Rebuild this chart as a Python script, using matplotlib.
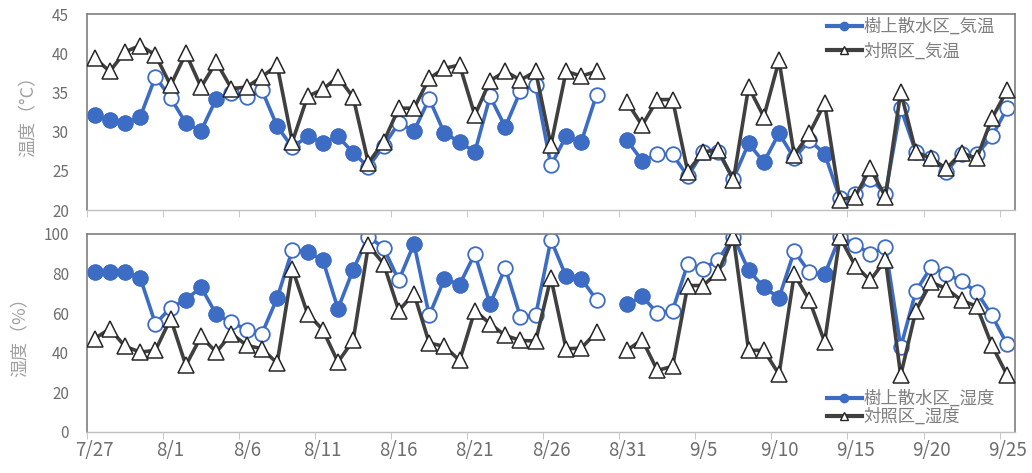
import numpy as np
import matplotlib
matplotlib.use('Agg')
import matplotlib.pyplot as plt

plt.rcParams['font.family'] = ['Noto Sans CJK JP', 'DejaVu Sans']

# 7/27 - 9/25 (8/30 欠測)
n_days = 61
tick_labels = ['7/27', '8/1', '8/6', '8/11', '8/16', '8/21', '8/26', '8/31',
               '9/5', '9/10', '9/15', '9/20', '9/25']

nan = np.nan
temp_spr = [32.1, 31.5, 31.1, 31.9, 37.0, 34.3, 31.1, 30.1, 34.2, 35.0,
            34.4, 35.3, 30.7, 28.0, 29.4, 28.6, 29.4, 27.3, 25.5, 28.2,
            31.1, 30.1, 34.2, 29.8, 28.7, 27.4, 34.5, 30.6, 35.2, 35.9,
            25.7, 29.4, 28.7, 34.7, nan, 28.9, 26.3, 27.1, 27.1, 24.3,
            27.4, 27.4, 24.0, 28.5, 26.1, 29.8, 26.6, 28.9, 27.2, 21.5,
            22.1, 24.0, 22.1, 33.0, 27.4, 26.6, 24.9, 27.2, 27.1, 29.4, 33.0]
temp_ctl = [39.4, 37.7, 40.2, 41.0, 39.8, 35.9, 40.0, 35.7, 38.9, 35.5,
            35.7, 37.0, 38.5, 28.7, 34.5, 35.4, 37.0, 34.4, 26.0, 28.7,
            33.0, 33.0, 36.8, 38.1, 38.5, 32.1, 36.5, 37.7, 36.6, 37.7,
            28.3, 37.7, 37.1, 37.7, nan, 33.8, 30.8, 34.1, 34.1, 24.9,
            27.4, 27.7, 23.8, 35.7, 31.9, 39.1, 27.0, 29.8, 33.6, 21.3,
            21.7, 25.3, 21.7, 35.1, 27.4, 26.6, 25.3, 27.3, 26.6, 31.7, 35.3]
hum_spr = [80.6, 80.6, 80.6, 77.8, 54.6, 62.7, 66.7, 73.1, 59.3, 55.4,
           51.6, 49.6, 67.5, 91.9, 90.7, 86.9, 62.2, 81.9, 98.6, 92.9,
           76.5, 95.0, 58.8, 77.3, 74.4, 89.9, 64.4, 82.9, 58.0, 58.8,
           97.0, 78.5, 77.3, 66.7, nan, 64.4, 68.4, 60.0, 61.3, 84.9,
           82.4, 86.9, 98.6, 81.5, 73.1, 67.7, 91.2, 80.6, 79.5, 98.6,
           94.6, 89.9, 93.2, 42.8, 71.1, 83.2, 79.8, 76.1, 70.6, 58.8, 44.2]
hum_ctl = [47.1, 52.1, 43.2, 40.3, 41.2, 57.2, 33.6, 48.2, 40.3, 49.6,
           43.7, 42.0, 34.8, 82.4, 59.7, 51.6, 35.3, 46.2, 94.1, 84.9,
           61.3, 69.8, 44.9, 43.2, 36.1, 61.3, 54.6, 48.7, 46.2, 45.9,
           77.8, 42.0, 42.3, 50.4, nan, 41.2, 46.6, 31.1, 33.1, 73.9,
           73.9, 80.6, 98.3, 41.2, 41.2, 29.1, 79.5, 66.4, 45.4, 98.3,
           84.0, 76.5, 86.9, 28.6, 61.3, 75.6, 72.3, 66.4, 63.4, 43.7, 28.6]

# 塗りつぶしマーカーの日（index）
temp_filled = [0, 1, 2, 3, 6, 7, 8, 12, 14, 15, 16, 17, 21, 23, 24, 25, 27,
               31, 32, 35, 36, 43, 44, 45, 48]
hum_filled = [0, 1, 2, 3, 6, 7, 8, 12, 14, 15, 16, 17, 21, 23, 24, 26,
              31, 32, 35, 36, 43, 44, 45, 48]

blue = '#3D6CC4'
dark = '#404040'
gray_txt = '#6E6E6E'
legend_txt = '#7F7F7F'
label_txt = '#A0A0A0'
spine_c = '#7F7F7F'

x = np.arange(n_days)

fig = plt.figure(figsize=(10.32, 4.73), dpi=100)
ax1 = fig.add_axes([0.0843, 0.556, 0.899, 0.414])
ax2 = fig.add_axes([0.0843, 0.0867, 0.899, 0.419])


def draw(ax, y_spr, y_ctl, filled, lab_spr, lab_ctl):
    y_spr = np.array(y_spr)
    y_ctl = np.array(y_ctl)
    mask = np.zeros(n_days, dtype=bool)
    mask[filled] = True
    ax.plot(x, y_spr, color=blue, lw=2.6, marker='o', ms=10.5,
            mfc='white', mec=blue, mew=1.3, zorder=2)
    ax.plot(x[mask], y_spr[mask], ls='', marker='o', ms=10.5,
            color=blue, zorder=2.1)
    ax.plot(x, y_ctl, color=dark, lw=2.6, marker='^', ms=11,
            mfc='white', mec='#262626', mew=1.1, zorder=3)
    h1 = plt.Line2D([], [], color=blue, lw=3, marker='o', ms=6)
    h2 = plt.Line2D([], [], color=dark, lw=3, marker='^', ms=6,
                    mfc='white', mec='#262626', mew=1.0)
    return [h1, h2], [lab_spr, lab_ctl]


def style(ax):
    ax.set_xlim(-0.5, n_days - 0.5)
    ax.set_xticks(np.arange(0, n_days, 5))
    ax.set_xticks(np.arange(-0.5, n_days, 5), minor=True)
    ax.tick_params(axis='x', which='major', length=0, labelsize=13.5,
                   colors=gray_txt, pad=6)
    ax.tick_params(axis='x', which='minor', length=5, color='#BFBFBF')
    ax.tick_params(axis='y', length=0, labelsize=11, colors=gray_txt, pad=13)
    for s in ['top', 'left', 'right']:
        ax.spines[s].set_color(spine_c)
        ax.spines[s].set_linewidth(1.2)
    ax.spines['bottom'].set_color('#BFBFBF')
    ax.spines['bottom'].set_linewidth(1.0)


leg_kw = dict(frameon=False, fontsize=12.5, labelcolor=legend_txt,
              handlelength=2.0, handletextpad=0.1, borderaxespad=0.0)

hs, ls = draw(ax1, temp_spr, temp_ctl, temp_filled, '樹上散水区_気温', '対照区_気温')
style(ax1)
ax1.set_ylim(20, 45)
ax1.set_yticks(np.arange(20, 46, 5))
ax1.set_xticklabels([])
ax1.set_ylabel('温度（°C）', color=label_txt, fontsize=13, labelpad=10)
ax1.legend(hs, ls, loc='upper right', labelspacing=0.35,
           bbox_to_anchor=(0.986, 1.015), **leg_kw)

hs, ls = draw(ax2, hum_spr, hum_ctl, hum_filled, '樹上散水区_湿度', '対照区_湿度')
style(ax2)
ax2.set_ylim(0, 100)
ax2.set_yticks(np.arange(0, 101, 20))
ax2.set_xticklabels(tick_labels)
ax2.set_ylabel('湿度（%）', color=label_txt, fontsize=13, labelpad=10)
ax2.legend(hs, ls, loc='lower right', labelspacing=0.0,
           bbox_to_anchor=(0.986, -0.005), **leg_kw)

fig.savefig('out.png', dpi=100)
